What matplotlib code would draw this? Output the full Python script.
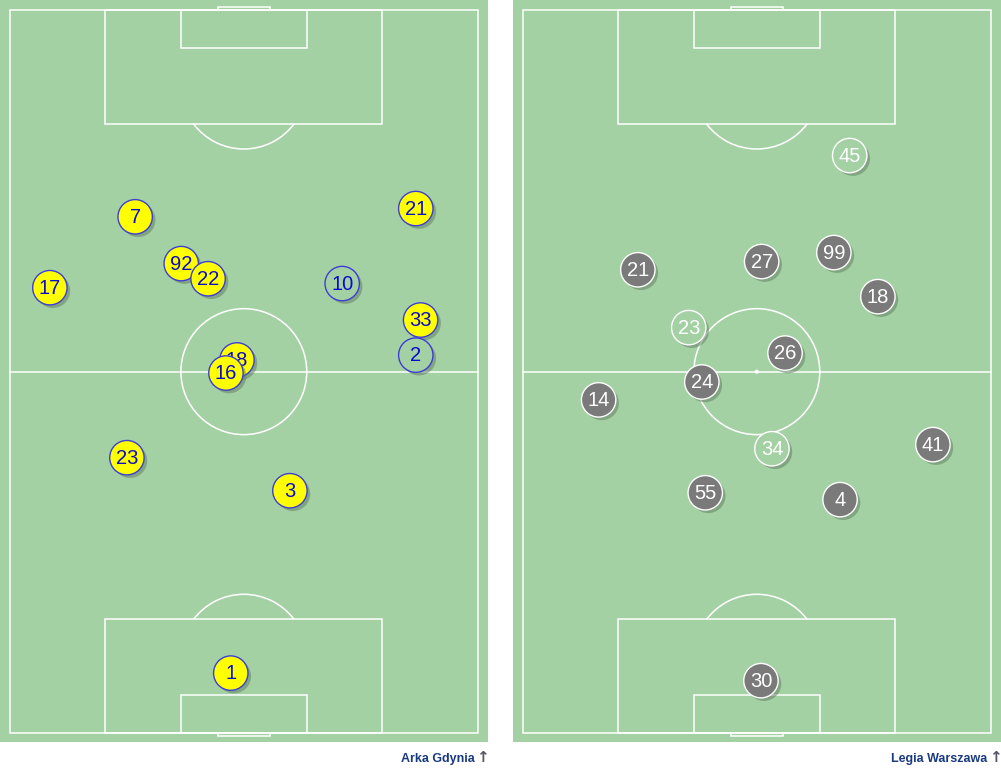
import matplotlib.pyplot as plt
from matplotlib.patches import Rectangle, Circle, Arc

plt.rcParams['font.family'] = ['Liberation Sans', 'DejaVu Sans']

# pitch size in metres
PITCH_W = 68
PITCH_L = 105

# Arka Gdynia (home, left pitch)
home_team = "Arka Gdynia"
home_numbers = [7, 21, 92, 22, 17, 10, 33, 2, 18, 16, 23, 3, 1]
home_x = [18.2, 59.0, 24.9, 28.8, 5.8, 48.3, 59.7, 59.0, 33.0, 31.4, 17.0, 40.7, 32.1]
home_y = [75.0, 76.2, 68.2, 66.0, 64.7, 65.3, 60.0, 54.9, 54.2, 52.3, 40.0, 35.2, 8.7]
home_filled = [True, True, True, True, True, False, True, False, True, True, True, True, True]

# Legia Warszawa (right pitch)
away_team = "Legia Warszawa"
away_numbers = [45, 21, 27, 99, 18, 23, 26, 24, 14, 41, 34, 55, 4, 30]
away_x = [47.5, 16.7, 34.7, 45.2, 51.6, 24.1, 38.1, 26.0, 11.0, 59.6, 36.2, 26.5, 46.1, 34.6]
away_y = [83.9, 67.3, 68.5, 69.8, 63.4, 58.9, 55.2, 51.0, 48.4, 41.9, 41.3, 34.9, 33.9, 7.6]
away_filled = [False, True, True, True, True, False, True, True, True, True, False, True, True, True]

GRASS = '#a4d1a4'
LINE = 'white'
LW = 1.1
R = 2.5

fig = plt.figure(figsize=(10.01, 7.77), dpi=100)
W, H = 1001, 777


def draw_pitch(ax):
    ax.set_facecolor(GRASS)
    ax.set_xlim(-1.45, 69.5)
    ax.set_ylim(-1.31, 106.5)
    ax.set_aspect('auto')
    ax.axis('off')
    ax.add_patch(Rectangle((-1.45, -1.31), 70.95, 107.81, color=GRASS, zorder=0))
    kw = dict(fill=False, ec=LINE, lw=LW, zorder=1)
    ax.add_patch(Rectangle((0, 0), PITCH_W, PITCH_L, **kw))
    ax.plot([0, PITCH_W], [PITCH_L / 2] * 2, color=LINE, lw=LW, zorder=1)
    ax.add_patch(Circle((PITCH_W / 2, PITCH_L / 2), 9.15, **kw))
    ax.add_patch(Circle((PITCH_W / 2, PITCH_L / 2), 0.2, color=LINE, zorder=1))
    for y0, sgn in [(0, 1), (PITCH_L, -1)]:
        # penalty box
        ax.add_patch(Rectangle((PITCH_W / 2 - 20.16, y0), 40.32, sgn * 16.5, **kw))
        # goal area
        ax.add_patch(Rectangle((PITCH_W / 2 - 9.16, y0), 18.32, sgn * 5.5, **kw))
        # goal
        ax.add_patch(Rectangle((PITCH_W / 2 - 3.75, y0), 7.5, -sgn * 0.45, **kw))
        # penalty arc
        spot = y0 + sgn * 11
        if sgn == 1:
            ax.add_patch(Arc((PITCH_W / 2, spot), 18.3, 18.3, theta1=37, theta2=143,
                             ec=LINE, lw=LW, zorder=1))
        else:
            ax.add_patch(Arc((PITCH_W / 2, spot), 18.3, 18.3, theta1=217, theta2=323,
                             ec=LINE, lw=LW, zorder=1))


def draw_players(ax, nums, xs, ys, filled, face, edge, txt):
    for i, (n, x, y, f) in enumerate(zip(nums, xs, ys, filled)):
        z = 3 + i * 0.1
        ax.add_patch(Circle((x + 0.45, y - 0.45), R, color='#5f7a5f', alpha=0.5, lw=0, zorder=z))
        ax.add_patch(Circle((x, y), R, fc=face if f else GRASS, ec=edge, lw=1.0, zorder=z + 0.01))
        ax.text(x, y - 0.1, str(n), ha='center', va='center', color=txt, fontsize=14.5,
                zorder=z + 0.02)


ax1 = fig.add_axes([0, 1 - 742 / H, 488 / W, 742 / H])
draw_pitch(ax1)
draw_players(ax1, home_numbers, home_x, home_y, home_filled, '#ffff00', '#3d3dd6', '#0a0ad0')

ax2 = fig.add_axes([513 / W, 1 - 742 / H, 488 / W, 742 / H])
draw_pitch(ax2)
draw_players(ax2, away_numbers, away_x, away_y, away_filled, '#7a7a7a', 'white', 'white')

foot = ['Liberation Sans Narrow', 'Liberation Sans', 'DejaVu Sans']
fig.text(475 / W, 1 - 759 / H, home_team, ha='right', va='center', fontsize=9,
         fontweight='bold', color='#1a3a80', family=foot)
fig.text(987 / W, 1 - 759 / H, away_team, ha='right', va='center', fontsize=9,
         fontweight='bold', color='#1a3a80', family=foot)
for xa in [482, 995]:
    fig.text(xa / W, 1 - 757 / H, '\u2191', ha='center', va='center', fontsize=11,
             fontweight='bold', color='#555566', family='DejaVu Sans')

fig.savefig('out.png', dpi=100, facecolor='white')
